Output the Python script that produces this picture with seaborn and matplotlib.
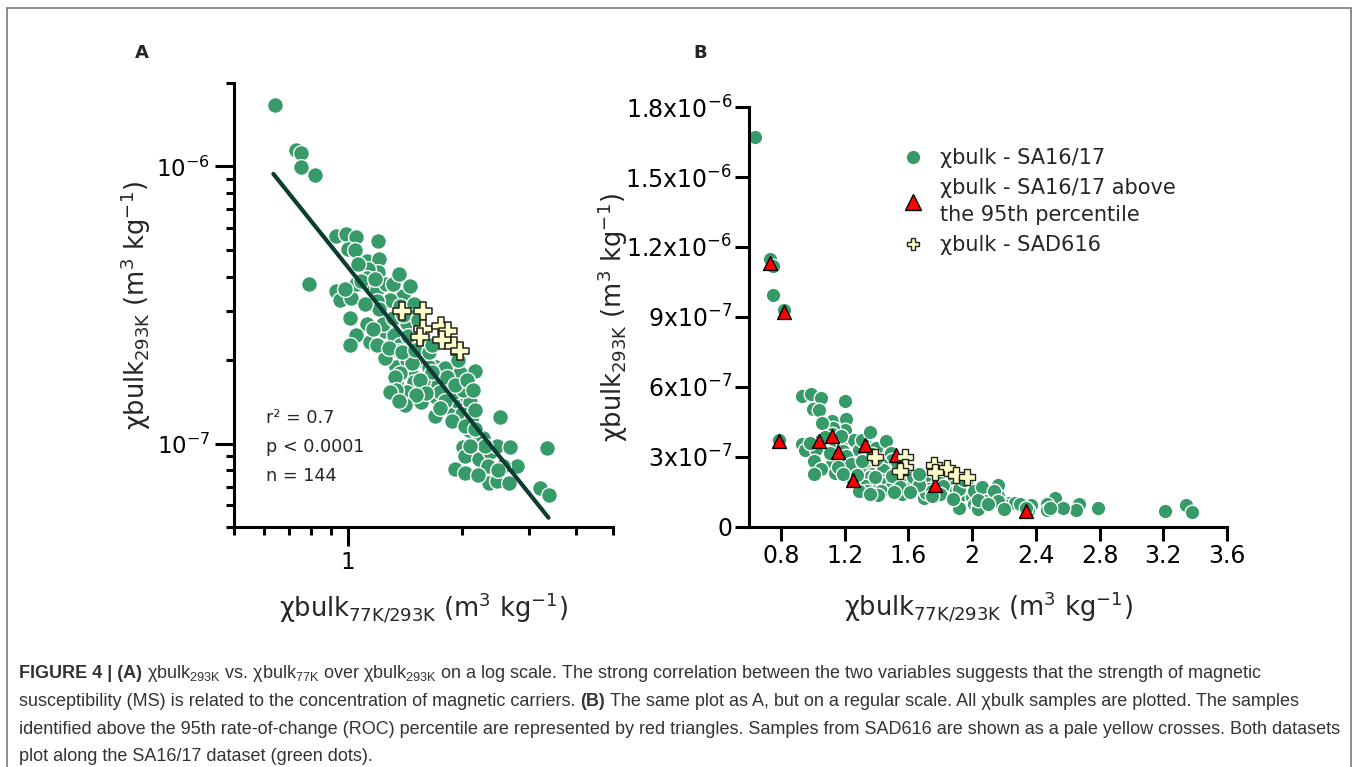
import numpy as np
import pandas as pd
import matplotlib
matplotlib.use("Agg")
import matplotlib.pyplot as plt
import seaborn as sns
from matplotlib.lines import Line2D
from matplotlib.patches import Rectangle
from matplotlib.transforms import IdentityTransform
from matplotlib.ticker import FixedLocator, FixedFormatter, NullFormatter

# ---------------- data ----------------
# SA16/17: x = chi bulk 77K/293K ratio, y = chi bulk 293K in units of 1e-7 m3/kg
sa_x = [0.64, 0.73, 0.75, 0.75, 0.82, 0.79,
        0.93, 0.99, 1.05, 1.20, 1.00, 1.04, 1.12, 1.21, 1.20, 1.13, 1.12,
        0.93, 0.95, 1.02, 1.05, 1.14, 1.19, 1.26, 1.33, 1.40, 1.46, 1.29, 1.19, 1.21, 1.37, 1.49, 1.50,
        1.01, 1.12, 1.05, 1.14, 1.01, 1.25, 1.32, 1.37, 1.26, 1.43, 1.44, 1.34, 1.43, 1.49, 1.58, 1.61,
        1.71, 1.78, 1.86, 1.34, 1.49, 1.68, 1.82,
        1.36, 1.25, 1.47, 1.37, 1.33, 1.49, 1.43, 1.34, 1.29, 1.63, 1.80, 1.88, 1.97, 2.16, 1.73, 1.56,
        1.70, 1.86, 1.94, 2.06, 2.10, 2.00, 2.12, 2.08, 2.23, 2.52, 2.01, 2.04, 2.21, 2.37, 2.47, 2.67,
        3.34, 1.92, 2.04, 2.35, 2.47, 2.65, 2.79, 2.57, 3.21, 3.38, 2.27, 1.82, 1.71, 1.90, 2.01, 2.16,
        1.24, 1.31, 1.40, 1.16, 1.19, 1.28, 1.39, 1.50, 1.55, 1.63, 1.67, 1.55, 1.75, 1.80, 1.92, 1.95,
        2.06, 2.14, 1.61, 1.51, 1.41, 1.36, 1.75, 1.88, 2.04, 2.16, 2.30, 2.10, 2.34, 2.49, 2.20, 1.06,
        1.08, 0.98, 1.11, 1.31, 1.36, 1.18, 1.53, 1.67]
sa_y_e7 = [16.7, 11.5, 11.2, 9.95, 9.3, 3.75,
           5.6, 5.7, 5.55, 5.4, 5.05, 5.0, 4.55, 4.65, 4.15, 4.25, 3.97,
           3.55, 3.3, 3.35, 3.75, 3.7, 3.6, 3.75, 3.55, 3.4, 3.7, 3.3, 3.27, 3.05, 3.13, 3.18, 2.88,
           2.84, 2.69, 2.47, 2.33, 2.27, 2.54, 2.47, 2.27, 2.06, 2.72, 2.44, 1.89, 2.0, 1.95, 2.37, 1.95,
           1.89, 1.84, 1.79, 1.65, 1.74, 1.70, 1.70,
           2.15, 2.03, 1.95, 1.79, 1.74, 1.67, 1.54, 1.56, 1.54, 1.89, 1.87, 1.70, 1.79, 1.82, 1.63, 1.41,
           1.26, 1.34, 1.43, 1.47, 1.41, 1.28, 1.26, 1.12, 1.03, 1.25, 0.97, 0.90, 0.88, 0.93, 0.98, 0.97,
           0.96, 0.81, 0.78, 0.72, 0.73, 0.72, 0.83, 0.83, 0.69, 0.65, 1.05, 1.74, 1.47, 1.54, 1.56, 1.32,
           2.69, 2.85, 2.92, 2.58, 2.27, 2.21, 2.14, 2.18, 2.62, 2.14, 1.81, 1.70, 1.53, 1.43, 1.63, 2.0,
           1.70, 1.56, 1.52, 1.50, 1.38, 1.43, 1.34, 1.21, 1.16, 1.13, 0.98, 0.98, 0.83, 0.80, 0.77, 4.44,
           3.85, 3.6, 3.18, 3.75, 4.08, 3.91, 2.80, 2.27]

# SA16/17 samples above the 95th ROC percentile (panel B)
roc_x = [0.73, 0.82, 0.79, 1.04, 1.12, 1.16, 1.33, 1.52, 1.25, 1.77, 2.34]
roc_y_e7 = [11.3, 9.2, 3.7, 3.7, 3.9, 3.2, 3.5, 3.1, 2.0, 1.8, 0.70]

# SAD616
sad_x = [1.39, 1.58, 1.58, 1.55, 1.76, 1.84, 1.77, 1.90, 1.97]
sad_y_e7 = [3.0, 3.0, 2.58, 2.42, 2.65, 2.55, 2.36, 2.25, 2.15]

# regression line end points (panel A)
fit_x = [0.635, 3.38]
fit_y_e7 = [9.4, 0.54]

# ticks
a_xmajor = [1]
a_xmajor_labels = ["1"]
a_xminor = [0.5, 0.6, 0.7, 0.8, 0.9, 2, 3, 4, 5]
a_ymajor = [1e-7, 1e-6]
a_ymajor_labels = ["10$^{-7}$", "10$^{-6}$"]
a_yminor = [5e-8, 6e-8, 7e-8, 8e-8, 9e-8, 2e-7, 3e-7, 4e-7, 5e-7, 6e-7, 7e-7, 8e-7, 9e-7, 2e-6]
b_xticks = [0.8, 1.2, 1.6, 2.0, 2.4, 2.8, 3.2, 3.6]
b_xlabels = ["0.8", "1.2", "1.6", "2", "2.4", "2.8", "3.2", "3.6"]
b_yticks = [0, 3e-7, 6e-7, 9e-7, 1.2e-6, 1.5e-6, 1.8e-6]
b_ylabels = ["0", "3x10$^{-7}$", "6x10$^{-7}$", "9x10$^{-7}$",
             "1.2x10$^{-6}$", "1.5x10$^{-6}$", "1.8x10$^{-6}$"]

legend_labels = ["χbulk - SA16/17",
                 "χbulk - SA16/17 above\nthe 95th percentile",
                 "χbulk - SAD616"]

caption_lines = [
    [("FIGURE 4 | (A)", "bold"),
     ("χbulk$_{\\mathregular{293K}}$ vs. χbulk$_{\\mathregular{77K}}$ over χbulk$_{\\mathregular{293K}}$ "
      "on a log scale. The strong correlation between the two variables suggests that the strength of magnetic", "normal")],
    [("susceptibility (MS) is related to the concentration of magnetic carriers.", "normal"),
     ("(B)", "bold"),
     ("The same plot as A, but on a regular scale. All χbulk samples are plotted. The samples", "normal")],
    [("identified above the 95th rate-of-change (ROC) percentile are represented by red triangles. "
      "Samples from SAD616 are shown as a pale yellow crosses. Both datasets", "normal")],
    [("plot along the SA16/17 dataset (green dots).", "normal")],
]

# ---------------- frames ----------------
sa = pd.DataFrame({"x": sa_x, "y": np.array(sa_y_e7) * 1e-7})
roc = pd.DataFrame({"x": roc_x, "y": np.array(roc_y_e7) * 1e-7})
sad = pd.DataFrame({"x": sad_x, "y": np.array(sad_y_e7) * 1e-7})
fit = pd.DataFrame({"x": fit_x, "y": np.array(fit_y_e7) * 1e-7})

# ---------------- style ----------------
sns.set_style("ticks")
plt.rcParams["font.family"] = ["DejaVu Sans"]
plt.rcParams["mathtext.fontset"] = "dejavusans"

GREEN = "#369b68"
LINE = "#0b3d35"
CREAM = "#ffffc8"
RED = "#ff0000"

W, H = 1358, 767
fig = plt.figure(figsize=(W / 100, H / 100), dpi=100)
fig.patch.set_facecolor("white")

axA = fig.add_axes([234 / W, 1 - 527 / H, 379 / W, 444 / H])
axB = fig.add_axes([749 / W, 1 - 527 / H, 478 / W, 420 / H])

LABEL_SIZE = 18.5

# ---------------- panel A ----------------
sns.scatterplot(data=sa, x="x", y="y", ax=axA, color=GREEN, s=130,
                edgecolor="white", linewidth=1.0, zorder=2, legend=False)
sns.lineplot(data=fit, x="x", y="y", ax=axA, color=LINE, linewidth=3.0,
             zorder=3, sort=False, legend=False)
sns.scatterplot(data=sad, x="x", y="y", ax=axA, marker="P", s=160, color=CREAM,
                edgecolor="#222222", linewidth=1.1, zorder=4, legend=False)
axA.set_xscale("log")
axA.set_yscale("log")
axA.set_xlim(0.5, 5)
axA.set_ylim(5e-8, 2e-6)
axA.xaxis.set_major_locator(FixedLocator(a_xmajor))
axA.xaxis.set_major_formatter(FixedFormatter(a_xmajor_labels))
axA.xaxis.set_minor_locator(FixedLocator(a_xminor))
axA.xaxis.set_minor_formatter(NullFormatter())
axA.yaxis.set_major_locator(FixedLocator(a_ymajor))
axA.yaxis.set_major_formatter(FixedFormatter(a_ymajor_labels))
axA.yaxis.set_minor_locator(FixedLocator(a_yminor))
axA.yaxis.set_minor_formatter(NullFormatter())
axA.tick_params(which="major", length=14, width=2.2, labelsize=16.5, pad=3,
                direction="out", color="black", labelcolor="black")
axA.tick_params(which="minor", length=6, width=2.2, direction="out", color="black")

axA.set_xlabel("χbulk$_{\\mathregular{77K/293K}}$ (m$^{\\mathregular{3}}$ kg$^{\\mathregular{-1}}$)",
               fontsize=LABEL_SIZE)
axA.set_ylabel("χbulk$_{\\mathregular{293K}}$ (m$^{\\mathregular{3}}$ kg$^{\\mathregular{-1}}$)",
               fontsize=LABEL_SIZE)
axA.xaxis.set_label_coords(0.5, -0.142)
axA.yaxis.set_label_coords(-0.214, 0.5)

# ---------------- panel B ----------------
sns.scatterplot(data=sa, x="x", y="y", ax=axB, color=GREEN, s=110,
                edgecolor="white", linewidth=1.0, zorder=2, legend=False)
sns.scatterplot(data=roc, x="x", y="y", ax=axB, marker="^", s=100, color=RED,
                edgecolor="black", linewidth=1.0, zorder=3, legend=False)
sns.scatterplot(data=sad, x="x", y="y", ax=axB, marker="P", s=130, color=CREAM,
                edgecolor="#222222", linewidth=1.0, zorder=4, legend=False)
axB.set_xlim(0.6, 3.6)
axB.set_ylim(0, 1.8e-6)
axB.xaxis.set_major_locator(FixedLocator(b_xticks))
axB.xaxis.set_major_formatter(FixedFormatter(b_xlabels))
axB.yaxis.set_major_locator(FixedLocator(b_yticks))
axB.yaxis.set_major_formatter(FixedFormatter(b_ylabels))
axB.minorticks_off()
axB.tick_params(which="major", length=10, width=2.2, labelsize=17, pad=2,
                direction="out", color="black", labelcolor="black")
axB.set_xlabel("χbulk$_{\\mathregular{77K/293K}}$ (m$^{\\mathregular{3}}$ kg$^{\\mathregular{-1}}$)",
               fontsize=LABEL_SIZE)
axB.set_ylabel("χbulk$_{\\mathregular{293K}}$ (m$^{\\mathregular{3}}$ kg$^{\\mathregular{-1}}$)",
               fontsize=LABEL_SIZE)
axB.xaxis.set_label_coords(0.5, -0.15)
axB.yaxis.set_label_coords(-0.249, 0.5)

for ax in (axA, axB):
    sns.despine(ax=ax)
    for s in ("left", "bottom"):
        ax.spines[s].set_linewidth(2.2)
        ax.spines[s].set_color("black")
    ax.set_facecolor("white")
    ax.grid(False)

# legend (panel B)
handles = [
    Line2D([], [], marker="o", ls="none", markersize=10.5, markerfacecolor=GREEN,
           markeredgecolor="white"),
    Line2D([], [], marker="^", ls="none", markersize=11, markerfacecolor=RED,
           markeredgecolor="black", markeredgewidth=1.0),
    Line2D([], [], marker="P", ls="none", markersize=9, markerfacecolor=CREAM,
           markeredgecolor="#222222", markeredgewidth=1.0),
]
leg = axB.legend(handles, legend_labels, loc="upper left",
                 bbox_to_anchor=(903 / W, 1 - 148 / H), bbox_transform=fig.transFigure,
                 frameon=False, fontsize=15, handlelength=1.0, handletextpad=0.8,
                 borderpad=0, borderaxespad=0, labelspacing=0.5)
for t in leg.get_texts():
    t.set_linespacing(1.4)

# panel letters and stats
fig.text(142 / W, 1 - 53 / H, "A", fontsize=13, fontweight="bold", ha="center", va="center")
fig.text(700 / W, 1 - 53 / H, "B", fontsize=13, fontweight="bold", ha="center", va="center")
for txt, yy in (("r² = 0.7", 418), ("p < 0.0001", 447), ("n = 144", 476)):
    fig.text(266 / W, 1 - yy / H, txt, fontsize=12.7, ha="left", va="center")

# border
fig.patches.append(Rectangle((7, -5), 1344, 764, transform=IdentityTransform(),
                             fill=False, edgecolor="#6e6e6e", linewidth=1.1))

# caption
cap_family = ["Liberation Sans", "DejaVu Sans"]
cap_color = "#333333"
cap_size = 13
renderer = fig.canvas.get_renderer()
space_px = 0.278 * cap_size * 100 / 72
baselines = [678, 706, 734, 761]
for line, yb in zip(caption_lines, baselines):
    xpix = 19
    for i, (txt, wt) in enumerate(line):
        t = fig.text(xpix / W, 1 - yb / H, txt, fontsize=cap_size, fontweight=wt,
                     family=cap_family, color=cap_color, ha="left", va="baseline")
        bb = t.get_window_extent(renderer)
        xpix = bb.x1 + space_px

fig.savefig("out.png", dpi=100, facecolor="white")
